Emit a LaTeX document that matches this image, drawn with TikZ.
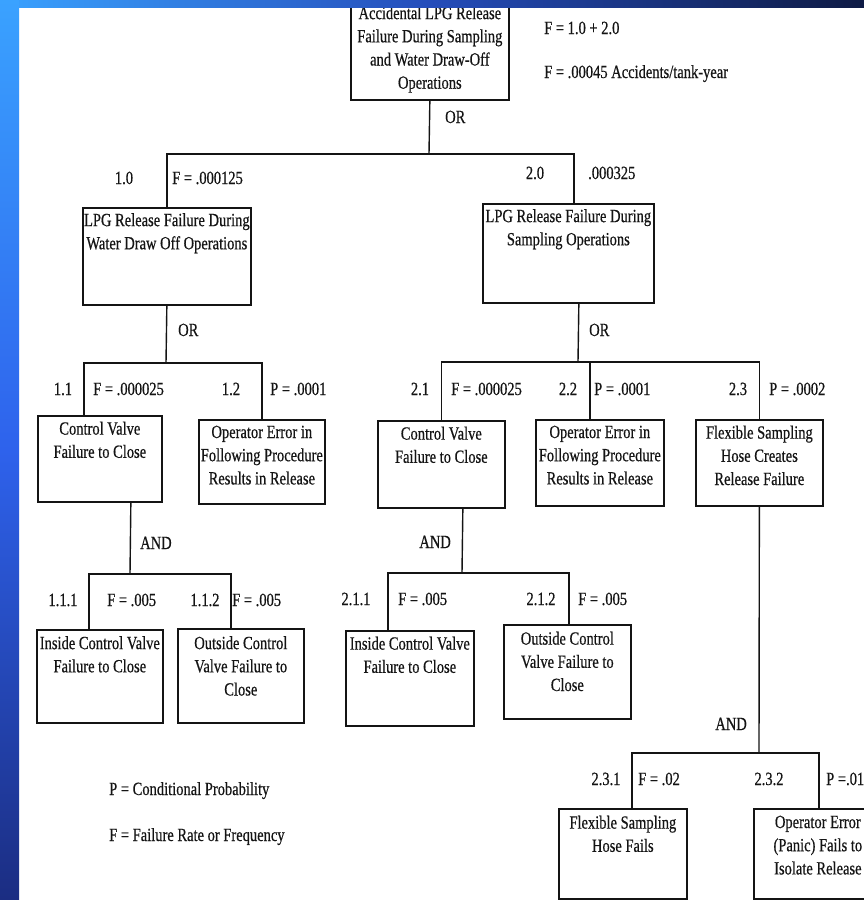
\documentclass[tikz,border=0pt]{standalone}
\usepackage{fontspec}
\setmainfont{Liberation Serif}[FakeStretch=0.78,FakeBold=0.5]
\usepackage{tikz}
\usetikzlibrary{positioning}
\definecolor{ink}{HTML}{141414}
\definecolor{bannerA}{HTML}{3AA2FF}
\definecolor{bannerB}{HTML}{2E62EC}
\definecolor{bannerC}{HTML}{1B2D82}
\definecolor{bannerD}{HTML}{0E1A44}
\newcommand{\treefont}{\fontsize{18.6}{23.2}\selectfont}
\tikzset{
  evbox/.style={draw=ink,line width=1.7pt,anchor=north west,inner sep=0pt},
  evtext/.style={anchor=north,inner sep=0pt,align=center,font=\treefont,text=ink},
  numlab/.style={inner sep=0pt,font=\treefont,text=ink,text height=14pt,text depth=2pt},
  vallab/.style={numlab,anchor=west},
  gatelab/.style={numlab,anchor=west},
  notelab/.style={numlab,anchor=west},
  wire/.style={draw=ink,line width=1.4pt}
}

\begin{document}
\begin{tikzpicture}[x=1pt,y=-1pt]
  \useasboundingbox (0,0) rectangle (864,900);
  \clip (0,0) rectangle (864,900);
  \fill[white] (0,0) rectangle (864,900);

  \node[evbox,minimum width=158pt,minimum height=100pt] (b0) at (350,-1) {};
  \node[evtext] (b0t) at ([yshift=-7pt]b0.north) {Accidental LPG Release\\Failure During Sampling\\and Water Draw-Off\\Operations};
  \node[vallab] (f0a) at (544,28) {F = 1.0 + 2.0};
  \node[vallab] (f0b) at (544,72) {F = .00045 Accidents/tank-year};

  \node[evbox,minimum width=168pt,minimum height=97pt] (b10) at (82,207) {};
  \node[evtext] (b10t) at ([yshift=-6pt]b10.north) {LPG Release Failure During\\Water Draw Off Operations};
  \node[evbox,minimum width=171pt,minimum height=99pt] (b20) at (482,203) {};
  \node[evtext] (b20t) at ([yshift=-6pt]b20.north) {LPG Release Failure During\\Sampling Operations};

  \node[evbox,minimum width=124pt,minimum height=86pt] (b11) at (37,415) {};
  \node[evtext] (b11t) at ([yshift=-6.5pt]b11.north) {Control Valve\\Failure to Close};
  \node[evbox,minimum width=126pt,minimum height=84pt] (b12) at (198,419) {};
  \node[evtext] (b12t) at ([yshift=-6.5pt]b12.north) {Operator Error in\\Following Procedure\\Results in Release};
  \node[evbox,minimum width=127pt,minimum height=87pt] (b21) at (377,420) {};
  \node[evtext] (b21t) at ([yshift=-6.5pt]b21.north) {Control Valve\\Failure to Close};
  \node[evbox,minimum width=128pt,minimum height=86pt] (b22) at (535,419) {};
  \node[evtext] (b22t) at ([yshift=-6.5pt]b22.north) {Operator Error in\\Following Procedure\\Results in Release};
  \node[evbox,minimum width=127pt,minimum height=86pt] (b23) at (695,419) {};
  \node[evtext] (b23t) at ([yshift=-6.5pt]b23.north) {Flexible Sampling\\Hose Creates\\Release Failure};

  \node[evbox,minimum width=126pt,minimum height=93pt] (b111) at (36,629) {};
  \node[evtext] (b111t) at ([yshift=-7pt]b111.north) {Inside Control Valve\\Failure to Close};
  \node[evbox,minimum width=126pt,minimum height=94pt] (b112) at (177,628) {};
  \node[evtext] (b112t) at ([yshift=-8pt]b112.north) {Outside Control\\Valve Failure to\\Close};
  \node[evbox,minimum width=128pt,minimum height=95pt] (b211) at (345,630) {};
  \node[evtext] (b211t) at ([yshift=-6.5pt]b211.north) {Inside Control Valve\\Failure to Close};
  \node[evbox,minimum width=127pt,minimum height=94pt] (b212) at (503,624) {};
  \node[evtext] (b212t) at ([yshift=-7.5pt]b212.north) {Outside Control\\Valve Failure to\\Close};

  \node[evbox,minimum width=128pt,minimum height=90pt] (b231) at (558,808) {};
  \node[evtext] (b231t) at ([yshift=-7.5pt]b231.north) {Flexible Sampling\\Hose Fails};
  \node[evbox,minimum width=128pt,minimum height=90pt] (b232) at (753,808) {};
  \node[evtext] (b232t) at ([yshift=-7.5pt]b232.north) {Operator Error\\(Panic) Fails to\\Isolate Release};

  \coordinate (g0) at (429,154);
  \coordinate (g1) at (166,363);
  \coordinate (g2) at (578,362);
  \coordinate (g3) at (130,574);
  \coordinate (g4) at (462,573);
  \coordinate (g5) at (759,753);

  \draw[wire] (b0.south) -- (g0);
  \draw[wire] (b10.north) |- (g0) -| ([xshift=5.5pt]b20.north);
  \draw[wire] (b10.south) -- (g1);
  \draw[wire] ([xshift=-16pt]b11.north) |- (g1) -| (b12.north);
  \draw[wire] ([xshift=10.5pt]b20.south) -- (g2);
  \draw[wire] (b21.north) |- (g2) -| (b23.north);
  \draw[wire] ([xshift=-10pt]b22.north) -- ++(0,-57);
  \draw[wire] ([xshift=31pt]b11.south) -- (g3);
  \draw[wire] ([xshift=-11pt]b111.north) |- (g3) -| ([xshift=-10pt]b112.north);
  \draw[wire] ([xshift=21.5pt]b21.south) -- (g4);
  \draw[wire] ([xshift=-22pt]b211.north) |- (g4) -| ([xshift=1.5pt]b212.north);
  \draw[wire] (b23.south) -- (g5);
  \draw[wire] ([xshift=9pt]b231.north) |- (g5) -| ([xshift=1pt]b232.north);

  \node[gatelab] (or0) at (445,117) {OR};
  \node[gatelab] (or1) at (178,330) {OR};
  \node[gatelab] (or2) at (589,330) {OR};
  \node[gatelab] (and1) at (140,543) {AND};
  \node[gatelab,anchor=east] (and2) at (451,542) {AND};
  \node[gatelab,anchor=east] (and3) at (747,724) {AND};

  \foreach \nm/\px/\py/\txt in {n10/124/178/1.0, n20/535/173/2.0,
      n11/63/389/1.1, n12/231/389/1.2, n21/420/389/2.1, n22/568/389/2.2, n23/738/389/2.3,
      n111/63/600/1.1.1, n112/205/600/1.1.2, n211/356/599/2.1.1, n212/541/599/2.1.2,
      n231/606/779/2.3.1, n232/769/779/2.3.2}
    \node[numlab] (\nm) at (\px,\py) {\txt};

  \foreach \nm/\px/\py/\txt in {v10/172/178/F = .000125, v20/588/173/.000325,
      v11/93/389/F = .000025, v12/270/389/P = .0001, v21/451/389/F = .000025,
      v22/594/389/P = .0001, v23/769/389/P = .0002,
      v111/107/600/F = .005, v112/232/600/F = .005, v211/398/599/F = .005, v212/578/599/F = .005,
      v231/638/779/F = .02, v232/826/779/P =.01}
    \node[vallab] (\nm) at (\px,\py) {\txt};

  \node[notelab] (keyp) at (109,789) {P = Conditional Probability};
  \node[notelab] (keyf) at (109,835) {F = Failure Rate or Frequency};

  \shade[left color=bannerA,right color=bannerD,middle color=bannerB!70!bannerD] (0,0) rectangle (864,7);
  \shade[top color=bannerA,bottom color=bannerC,middle color=bannerB] (0,0) rectangle (19,900);
\end{tikzpicture}
\end{document}
